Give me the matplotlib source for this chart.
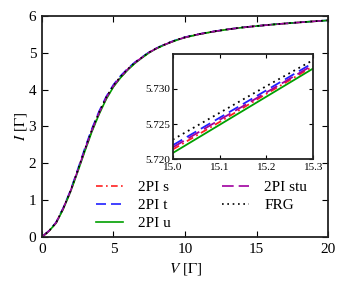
import matplotlib
matplotlib.use("Agg")
import matplotlib.pyplot as plt

plt.rcParams['font.family'] = ['Liberation Serif', 'DejaVu Serif']
plt.rcParams['mathtext.fontset'] = 'stix'

# Main curve data
V = [0, 0.5, 1, 1.5, 2, 2.5, 3, 3.5, 4, 4.5, 5, 5.5, 6, 6.5, 7, 7.5, 8, 8.5, 9, 9.5,
     10, 11, 12, 13, 14, 15, 16, 17, 18, 19, 20]
I_u = [0, 0.16, 0.38, 0.76, 1.22, 1.76, 2.32, 2.86, 3.33, 3.74, 4.07, 4.32, 4.53, 4.71, 4.86,
       5.00, 5.11, 5.20, 5.28, 5.35, 5.41, 5.50, 5.57, 5.63, 5.68, 5.7209, 5.758, 5.79, 5.82, 5.848, 5.875]
I_s = [0, 0.16, 0.385, 0.77, 1.23, 1.78, 2.34, 2.88, 3.35, 3.76, 4.085, 4.33, 4.54, 4.72, 4.87,
       5.005, 5.113, 5.203, 5.282, 5.352, 5.412, 5.501, 5.571, 5.631, 5.681, 5.7214, 5.758, 5.79, 5.82, 5.848, 5.875]
I_t = [0, 0.17, 0.40, 0.79, 1.26, 1.82, 2.40, 2.94, 3.41, 3.81, 4.13, 4.37, 4.57, 4.74, 4.88,
       5.015, 5.12, 5.21, 5.29, 5.36, 5.42, 5.505, 5.575, 5.633, 5.683, 5.722, 5.759, 5.791, 5.821, 5.849, 5.876]
I_stu = [0, 0.165, 0.39, 0.78, 1.24, 1.79, 2.36, 2.90, 3.37, 3.78, 4.10, 4.345, 4.55, 4.725, 4.87,
         5.008, 5.115, 5.205, 5.284, 5.354, 5.414, 5.503, 5.572, 5.631, 5.681, 5.7217, 5.758, 5.79, 5.82, 5.848, 5.875]
I_frg = [0, 0.165, 0.39, 0.78, 1.245, 1.80, 2.37, 2.91, 3.38, 3.79, 4.11, 4.35, 4.555, 4.73, 4.875,
         5.01, 5.118, 5.208, 5.287, 5.357, 5.417, 5.505, 5.575, 5.634, 5.684, 5.7228, 5.76, 5.792, 5.822, 5.85, 5.876]

# Inset data
V_in = [15.0, 15.1, 15.2, 15.3]
In_s = [5.7214, 5.7253, 5.7293, 5.7332]
In_t = [5.7220, 5.7259, 5.7298, 5.7337]
In_u = [5.7209, 5.7249, 5.7289, 5.7329]
In_stu = [5.7217, 5.7256, 5.7295, 5.7334]
In_frg = [5.7228, 5.7266, 5.7304, 5.7341]

labels = ['2PI s', '2PI t', '2PI u', '2PI stu', 'FRG']
colors = ['#ff2020', '#2020ff', '#00a000', '#a000a0', '#000000']
styles = [(0, (4, 2, 1, 2)), (0, (6, 3)), '-', (0, (7, 3)), (0, (1, 2.2))]

fig = plt.figure(figsize=(3.45, 2.86), dpi=100)
ax = fig.add_axes([0.121, 0.171, 0.831, 0.774])
series = [I_s, I_t, I_u, I_stu, I_frg]
for y, lab, c, ls in zip(series, labels, colors, styles):
    ax.plot(V, y, color=c, ls=ls, lw=1.2, label=lab)
ax.set_xlim(0, 20)
ax.set_ylim(0, 6)
ax.set_xticks([0, 5, 10, 15, 20])
ax.set_yticks([0, 1, 2, 3, 4, 5, 6])
ax.tick_params(direction='in', top=True, right=True, labelsize=11, length=4, width=0.8, pad=4)
for sp in ax.spines.values():
    sp.set_linewidth(1.3)
    sp.set_color('#222222')
ax.set_xlabel('$V$ [$\\Gamma$]', fontsize=11, labelpad=4)
ax.set_ylabel('$I$ [$\\Gamma$]', fontsize=11, labelpad=0)
ax.legend(ncol=2, frameon=False, fontsize=11, loc='lower left',
          bbox_to_anchor=(0.14, -0.03), handlelength=1.8, handletextpad=1.0,
          columnspacing=3.3, labelspacing=0.28)

axi = fig.add_axes([0.501, 0.443, 0.407, 0.367])
inset = [In_s, In_t, In_u, In_stu, In_frg]
for y, c, ls in zip(inset, colors, styles):
    axi.plot(V_in, y, color=c, ls=ls, lw=1.3)
axi.set_xlim(15.0, 15.3)
axi.set_ylim(5.720, 5.7349)
axi.set_xticks([15.0, 15.1, 15.2, 15.3])
axi.set_xticklabels(['15.0', '15.1', '15.2', '15.3'])
axi.set_yticks([5.720, 5.725, 5.730])
axi.set_yticklabels(['5.720', '5.725', '5.730'])
axi.tick_params(axis='y', direction='in', right=True, labelsize=8, length=3, width=0.8, pad=2)
axi.tick_params(axis='x', direction='in', top=True, labelsize=8, length=3, width=0.8, pad=3)
for sp in axi.spines.values():
    sp.set_linewidth(1.3)
    sp.set_color('#222222')

fig.savefig('out.png', dpi=100)
